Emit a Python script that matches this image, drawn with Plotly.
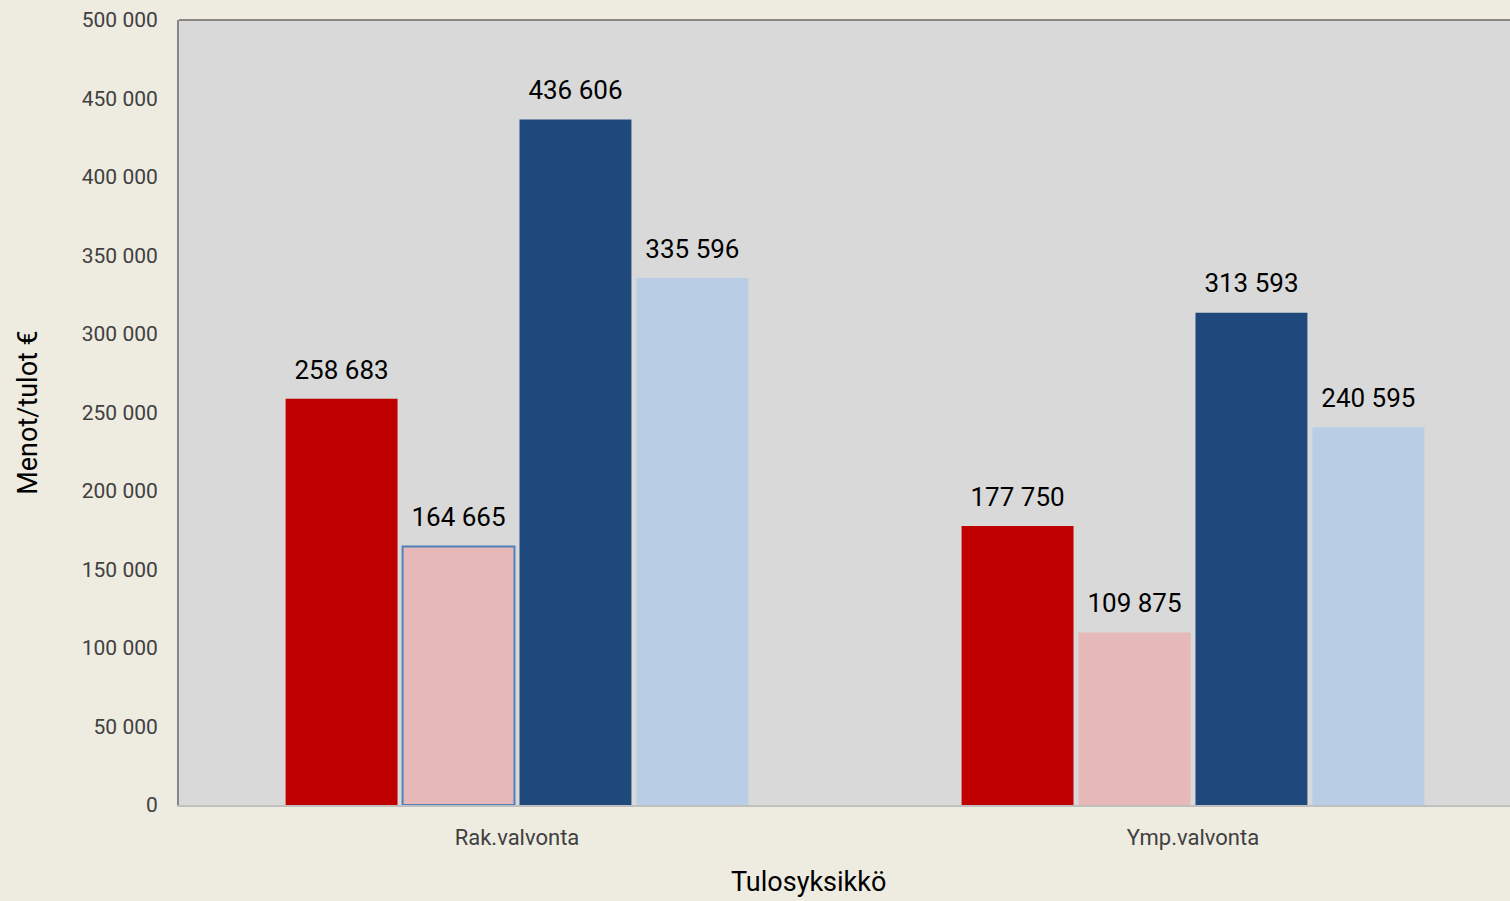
import plotly.graph_objects as go

categories = ["Rak.valvonta", "Ymp.valvonta"]
series_names = ["Sarja 1", "Sarja 2", "Sarja 3", "Sarja 4"]
series_values = [
    [258683, 177750],
    [164665, 109875],
    [436606, 313593],
    [335596, 240595],
]
colors = ["#C00000", "#E6B8B7", "#1F497D", "#B9CDE5"]
y_ticks = [0, 50000, 100000, 150000, 200000, 250000, 300000, 350000, 400000, 450000, 500000]

fig = go.Figure()
for i, (name, vals) in enumerate(zip(series_names, series_values)):
    if i == 1:
        line = dict(color=["#4F81BD", "rgba(0,0,0,0)"], width=[2, 0])
    else:
        line = dict(width=0)
    fig.add_trace(go.Bar(
        x=categories, y=vals, name=name,
        marker=dict(color=colors[i], line=line),
        texttemplate="<span style='font-size:26px'>%{y:,d}</span><br> ",
        textposition="outside",
        textfont=dict(family="Roboto", size=11, color="#000000"),
        cliponaxis=False,
    ))

fig.update_layout(
    width=1510, height=901,
    margin=dict(l=179, r=0, t=20, b=96),
    paper_bgcolor="#EEEBE0",
    plot_bgcolor="#D9D9D9",
    separators=", ",
    barmode="group",
    bargap=0.308,
    bargroupgap=0.043,
    showlegend=False,
    font=dict(family="Roboto", color="#404040"),
    xaxis=dict(
        range=[-0.500, 1.469],
        showline=True, linecolor="#BFBFBF", linewidth=2,
        tickfont=dict(size=22, color="#404040"),
        ticks="outside", ticklen=12, tickcolor="rgba(0,0,0,0)",
    ),
    yaxis=dict(
        range=[0, 500000],
        tickvals=y_ticks,
        tickformat=",d",
        showgrid=False, zeroline=False,
        showline=True, linecolor="#868686", linewidth=2,
        tickfont=dict(size=21, color="#404040"),
        ticks="outside", ticklen=15, tickcolor="rgba(0,0,0,0)",
        title=dict(text="Menot/tulot €", font=dict(size=27, color="#000000"), standoff=36),
    ),
)
fig.add_annotation(text="Tulosyksikkö", xref="paper", yref="paper", x=0.4726, y=0,
                   yshift=-77, showarrow=False, xanchor="center", yanchor="middle",
                   font=dict(family="Roboto", size=27, color="#000000"))
fig.add_shape(type="line", xref="paper", yref="paper", x0=0, x1=1, y0=1, y1=1,
              line=dict(color="#868686", width=2))

fig.write_html("out.html", config={"displayModeBar": False},
               post_script="document.body.style.margin='0';document.body.style.padding='0';")
